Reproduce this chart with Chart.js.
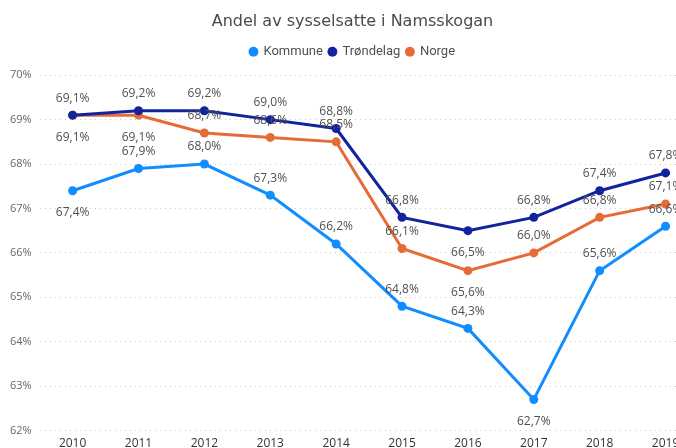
<!DOCTYPE html>
<html>
<head>
<meta charset="utf-8">
<script src="https://cdn.jsdelivr.net/npm/chart.js@4/dist/chart.umd.min.js"></script>
<style>
html,body{margin:0;padding:0;background:#fff;overflow:hidden;}
#wrap{width:676px;height:448px;position:relative;overflow:hidden;}
</style>
</head>
<body>
<div id="wrap"><canvas id="c" width="703" height="457"></canvas></div>
<script>
const years = ["2010","2011","2012","2013","2014","2015","2016","2017","2018","2019"];
const kommune = [67.4, 67.9, 68.0, 67.3, 66.2, 64.8, 64.3, 62.7, 65.6, 66.6];
const trondelag = [69.1, 69.2, 69.2, 69.0, 68.8, 66.8, 66.5, 66.8, 67.4, 67.8];
const norge = [69.1, 69.1, 68.7, 68.6, 68.5, 66.1, 65.6, 66.0, 66.8, 67.1];
const yTicks = [62, 63, 64, 65, 66, 67, 68, 69, 70];

// label placement (a = above, b = below)
const kommunePos = ["b","a","a","a","a","a","a","b","a","a"];
const trondelagPos = ["a","a","a","a","a","a","b","a","a","a"];
const norgePos = ["b","b","a","a","a","a","b","a","a","a"];

const fmt = v => v.toFixed(1).replace('.', ',') + '%';

const labelPlugin = {
  id: 'dataLabels',
  afterDatasetsDraw(chart) {
    const ctx = chart.ctx;
    ctx.save();
    ctx.font = '12px "Open Sans", "DejaVu Sans", sans-serif';
    ctx.fillStyle = '#505050';
    ctx.textAlign = 'center';
    ctx.textBaseline = 'middle';
    chart.data.datasets.forEach((ds, di) => {
      const meta = chart.getDatasetMeta(di);
      meta.data.forEach((pt, i) => {
        const pos = ds.labelPos[i];
        const y = pos === 'a' ? pt.y - 17 : pt.y + 22;
        ctx.fillText(fmt(ds.data[i]), pt.x, y);
      });
    });
    ctx.restore();
  }
};

const legendGap = {
  id: 'legendGap',
  beforeInit(chart) {
    if (!chart.legend) return;
    const orig = chart.legend.fit;
    chart.legend.fit = function () {
      orig.call(this);
      this.height += 7;
    };
  }
};

function ds(label, data, color, pos) {
  return {
    label, data, labelPos: pos,
    borderColor: color, backgroundColor: color,
    pointBackgroundColor: color, pointBorderColor: color,
    borderWidth: 3, pointBorderWidth: 0, pointRadius: 4.5, pointHoverRadius: 4.5,
    tension: 0, fill: false
  };
}

new Chart(document.getElementById('c'), {
  type: 'line',
  data: {
    labels: years,
    datasets: [
      ds('Kommune', kommune, '#118DFF', kommunePos),
      ds('Trøndelag', trondelag, '#12239E', trondelagPos),
      ds('Norge', norge, '#E66C37', norgePos)
    ]
  },
  options: {
    responsive: false,
    animation: false,
    layout: { padding: { left: 2, right: 0, top: 9, bottom: 0 } },
    plugins: {
      title: {
        display: true,
        text: 'Andel av sysselsatte i Namsskogan',
        color: '#4a4a4a',
        font: { size: 16, family: '"DejaVu Sans", sans-serif', weight: 'normal' },
        padding: { top: 3, bottom: 8 }
      },
      legend: {
        display: true,
        labels: {
          usePointStyle: true,
          pointStyle: 'circle',
          boxWidth: 7, boxHeight: 7,
          padding: 6,
          color: '#505050',
          font: { size: 13, family: 'Roboto, "DejaVu Sans", sans-serif' },
          generateLabels: chart => chart.data.datasets.map((d, i) => ({
            text: d.label, fillStyle: d.borderColor, strokeStyle: d.borderColor,
            lineWidth: 0, pointStyle: 'circle', datasetIndex: i, hidden: false,
            fontColor: '#505050'
          }))
        }
      },
      tooltip: { enabled: false }
    },
    scales: {
      x: {
        offset: true,
        grid: { display: false, drawTicks: false },
        border: { display: false },
        ticks: { color: '#333', font: { size: 12, family: '"Open Sans", "DejaVu Sans", sans-serif' }, padding: 6, maxRotation: 0 }
      },
      y: {
        min: yTicks[0], max: yTicks[yTicks.length - 1],
        afterBuildTicks: axis => { axis.ticks = yTicks.map(v => ({ value: v })); },
        grid: { color: '#c8c8c8', lineWidth: 1, drawTicks: false },
        border: { display: false, dash: [1, 4] },
        ticks: {
          color: '#666', padding: 8,
          font: { size: 11, family: '"Open Sans", "DejaVu Sans", sans-serif' },
          callback: v => v + '%'
        }
      }
    }
  },
  plugins: [labelPlugin, legendGap]
});
</script>
</body>
</html>
